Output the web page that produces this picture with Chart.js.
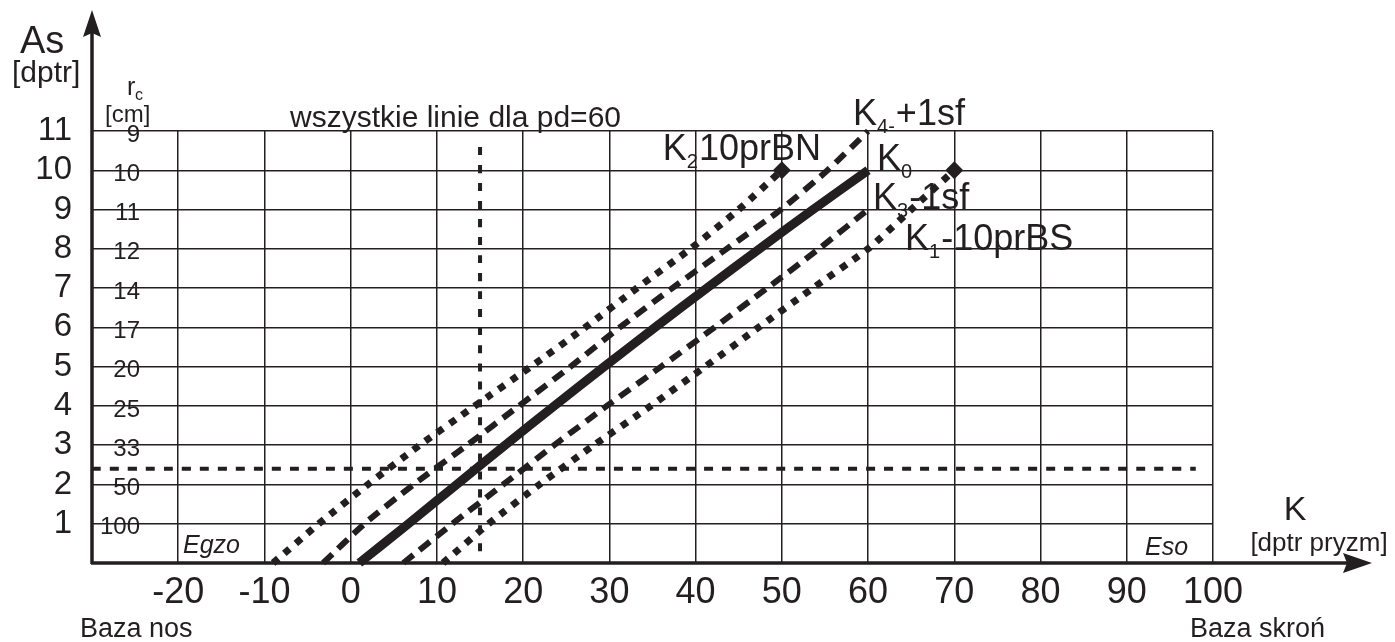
<!DOCTYPE html>
<html>
<head>
<meta charset="utf-8">
<script src="https://cdn.jsdelivr.net/npm/chart.js@4"></script>
<style>
  body { margin: 0; background: #fff; }
  #wrap { width: 1395px; height: 642px; }
</style>
</head>
<body>
<div id="wrap"><canvas id="chart"></canvas></div>
<script>
const ink = '#231f20'
const face = '"Liberation Sans", Arial, sans-serif'

// K0 - solid line
const k0X = [1, 6.7, 12.3, 17.9, 23.6, 29.4, 35.3, 41.3, 47.4, 53.6, 60]
const k0Y = [0, 1, 2, 3, 4, 5, 6, 7, 8, 9, 10]
// K4 +1sf - dashed, upper
const k4X = [-3.2, 1.6, 7.3, 13.5, 19.5, 25.5, 31.2, 37.3, 43.6, 49.9, 55.3, 60]
const k4Y = [0, 1, 2, 3, 4, 5, 6, 7, 8, 9, 10, 11]
// K3 -1sf - dashed, lower
const k3X = [6.1, 11.8, 17.7, 23.6, 29.7, 36, 42.2, 48.3, 54.3, 60]
const k3Y = [0, 1, 2, 3, 4, 5, 6, 7, 8, 9]
// K2 10prBN - dotted, upper
const k2X = [-9, -3.7, 2, 8, 14.4, 20.9, 27.2, 33.2, 39.4, 45, 50]
const k2Y = [0, 1, 2, 3, 4, 5, 6, 7, 8, 9, 10]
// K1 -10prBS - dotted, lower
const k1X = [10.7, 16, 21.9, 28.2, 34.8, 41.1, 47.3, 53.6, 60, 65, 70]
const k1Y = [0, 1, 2, 3, 4, 5, 6, 7, 8, 9, 10]
// reading lines
const asLineX = [-30, 98]
const asLineY = [2.4, 2.4]
const kLineX = [15, 15]
const kLineY = [0.3, 10.7]

// r_c [cm] column next to As axis
const rcLevels = [1, 2, 3, 4, 5, 6, 7, 8, 9, 10, 11]
const rcLabels = ['100', '50', '33', '25', '20', '17', '14', '12', '11', '10', '9']

const toPoints = (xs, ys) => xs.map((x, i) => ({ x: x, y: ys[i] }))

const lastDot = ctx => ctx.dataIndex === ctx.dataset.data.length - 1 ? 4 : 0

const series = (data, width, dash, extra) => Object.assign({
  data: data,
  showLine: true,
  borderColor: ink,
  backgroundColor: ink,
  borderWidth: width,
  borderDash: dash,
  borderCapStyle: 'butt',
  pointRadius: 0,
  tension: 0.2,
  clip: false
}, extra || {})

const font = (size, style) => (style ? style + ' ' : '') + size + 'px ' + face

const kLabel = (ctx, x, y, sub, rest) => {
  ctx.font = font(36)
  ctx.fillText('K', x, y)
  let px = x + ctx.measureText('K').width
  ctx.font = font(20)
  ctx.fillText(sub, px, y + 8)
  px += ctx.measureText(sub).width + 1
  ctx.font = font(36)
  ctx.fillText(rest, px, y)
}

const decorations = {
  id: 'decorations',
  afterDraw(chart) {
    const ctx = chart.ctx
    const xs = chart.scales.x
    const ys = chart.scales.y
    const x0 = xs.left
    const y0 = ys.bottom
    ctx.save()
    ctx.strokeStyle = ink
    ctx.fillStyle = ink
    ctx.lineWidth = 3.5

    // axes with arrows
    ctx.beginPath()
    ctx.moveTo(x0, y0 + 1)
    ctx.lineTo(x0, 30)
    ctx.moveTo(x0 - 1, y0)
    ctx.lineTo(1350, y0)
    ctx.stroke()
    ctx.beginPath()
    ctx.moveTo(x0, 10)
    ctx.lineTo(x0 + 9, 37)
    ctx.lineTo(x0, 33)
    ctx.lineTo(x0 - 9, 37)
    ctx.closePath()
    ctx.fill()
    ctx.beginPath()
    ctx.moveTo(1372, y0)
    ctx.lineTo(1343, y0 - 10)
    ctx.lineTo(1347, y0)
    ctx.lineTo(1343, y0 + 10)
    ctx.closePath()
    ctx.fill()

    ctx.textBaseline = 'alphabetic'
    ctx.textAlign = 'left'
    ctx.font = font(38)
    ctx.fillText('As', 20, 53)
    ctx.font = font(30)
    ctx.fillText('[dptr]', 12, 82)
    ctx.font = font(25)
    ctx.fillText('r', 127, 95)
    ctx.font = font(16)
    ctx.fillText('c', 135, 100)
    ctx.font = font(24)
    ctx.fillText('[cm]', 105, 122)

    // r_c values
    ctx.textAlign = 'right'
    ctx.textBaseline = 'middle'
    ctx.font = font(24)
    rcLevels.forEach((lv, i) => {
      ctx.fillText(rcLabels[i], 140, ys.getPixelForValue(lv) + 4)
    })

    ctx.textBaseline = 'alphabetic'
    ctx.textAlign = 'left'
    ctx.font = font(30)
    ctx.fillText('wszystkie linie dla pd=60', 290, 127)

    ctx.font = font(25, 'italic')
    ctx.fillText('Egzo', 183, 553)
    ctx.fillText('Eso', 1145, 555)

    ctx.textAlign = 'center'
    ctx.font = font(34)
    ctx.fillText('K', 1295, 520)
    ctx.font = font(26)
    ctx.fillText('[dptr pryzm]', 1319, 551)

    ctx.textAlign = 'left'
    ctx.font = font(27)
    ctx.fillText('Baza nos', 80, 637)
    ctx.fillText('Baza skroń', 1190, 637)

    // line labels
    const px = v => xs.getPixelForValue(v)
    const py = v => ys.getPixelForValue(v)
    kLabel(ctx, px(60) - 15, py(11) - 6, '4-', '+1sf')
    kLabel(ctx, px(60) + 9, py(10), '0', '')
    kLabel(ctx, px(60) + 5, py(9) - 1, '3', '-1sf')
    kLabel(ctx, px(60) + 37, py(8) + 1, '1', '-10prBS')
    kLabel(ctx, px(50) - 119, py(10) - 10, '2', '10prBN')
    ctx.restore()
  }
}

new Chart(document.getElementById('chart'), {
  type: 'scatter',
  data: {
    datasets: [
      series(toPoints(asLineX, asLineY), 4, [9, 9]),
      series(toPoints(kLineX, kLineY), 4, [8, 10]),
      series(toPoints(k2X, k2Y), 7, [7, 8], { pointRadius: lastDot, pointStyle: 'rectRot' }),
      series(toPoints(k1X, k1Y), 7, [7, 8], { pointRadius: lastDot, pointStyle: 'rectRot' }),
      series(toPoints(k4X, k4Y), 6, [13, 8]),
      series(toPoints(k3X, k3Y), 6, [13, 8]),
      series(toPoints(k0X, k0Y), 9, [])
    ]
  },
  options: {
    responsive: true,
    maintainAspectRatio: false,
    animation: false,
    layout: {
      padding: { top: 131, right: 182, left: 0, bottom: 0 }
    },
    plugins: {
      legend: { display: false },
      tooltip: { enabled: false }
    },
    scales: {
      x: {
        type: 'linear',
        min: -30,
        max: 100,
        afterFit: s => { s.height = 79 },
        border: { display: false },
        grid: { color: ink, lineWidth: 1.5, drawTicks: false },
        ticks: {
          stepSize: 10,
          autoSkip: false,
          maxRotation: 0,
          padding: 8,
          color: ink,
          font: { family: face, size: 36 },
          callback: v => v === -30 ? '' : v
        }
      },
      y: {
        type: 'linear',
        min: 0,
        max: 11,
        afterFit: s => { s.width = 92 },
        border: { display: false },
        grid: { color: ink, lineWidth: 1.5, drawTicks: false },
        ticks: {
          stepSize: 1,
          autoSkip: false,
          padding: 20,
          color: ink,
          font: { family: face, size: 33 },
          callback: v => v === 0 ? '' : v
        }
      }
    }
  },
  plugins: [decorations]
})
</script>
</body>
</html>
